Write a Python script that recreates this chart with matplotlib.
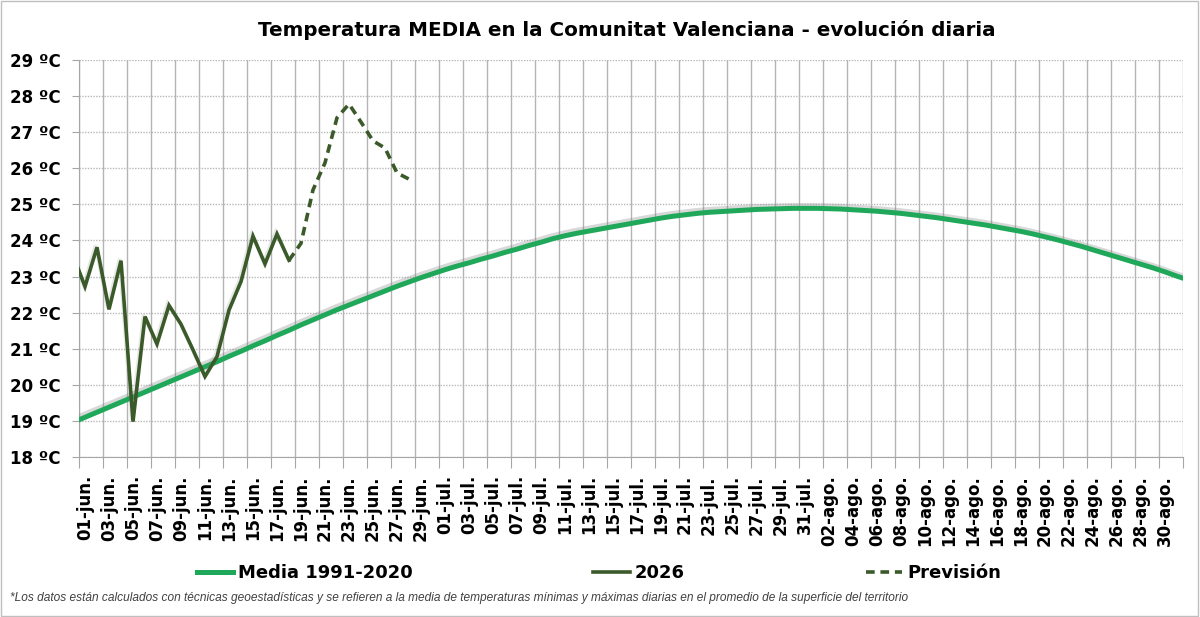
import matplotlib
matplotlib.use('Agg')
import matplotlib.pyplot as plt
import matplotlib.patheffects as pe
from matplotlib.patches import Rectangle
from matplotlib.lines import Line2D
import numpy as np

# Etiquetas del eje X (01-jun. ... 31-ago.)
meses = ['jun', 'jul', 'ago']
dias_mes = [30, 31, 31]
etiquetas = [f'{d:02d}-{m}.' for m, n in zip(meses, dias_mes) for d in range(1, n + 1)]

# Media 1991-2020, desde 31-may hasta 01-sep (recortada en los bordes)
media = [18.96,
         19.10, 19.24, 19.38, 19.52, 19.66, 19.80, 19.94, 20.08, 20.22, 20.36,
         20.50, 20.64, 20.79, 20.93, 21.08, 21.22, 21.37, 21.51, 21.66, 21.80,
         21.94, 22.08, 22.21, 22.34, 22.47, 22.60, 22.73, 22.85, 22.97, 23.08,
         23.19, 23.29, 23.38, 23.48, 23.57, 23.67, 23.76, 23.86, 23.95, 24.05,
         24.13, 24.20, 24.26, 24.32, 24.38, 24.44, 24.50, 24.56, 24.62, 24.67,
         24.71, 24.75, 24.78, 24.80, 24.82, 24.84, 24.86, 24.87, 24.88, 24.89,
         24.89, 24.89, 24.88, 24.87, 24.85, 24.83, 24.81, 24.78, 24.75, 24.71,
         24.67, 24.63, 24.58, 24.53, 24.48, 24.43, 24.37, 24.31, 24.25, 24.18,
         24.10, 24.02, 23.93, 23.84, 23.74, 23.64, 23.54, 23.44, 23.34, 23.24,
         23.13, 23.01, 22.90]

# 2026 observado, desde 31-may hasta 18-jun
t2026 = [23.60, 22.72, 23.81, 22.09, 23.44, 18.98, 21.89, 21.13, 22.20, 21.68,
         20.97, 20.23, 20.78, 22.07, 22.86, 24.12, 23.35, 24.18, 23.45]

# Prevision, desde 18-jun hasta 28-jun
prevision = [23.45, 23.92, 25.40, 26.15, 27.40, 27.78, 27.28, 26.76, 26.56,
             25.87, 25.70]

x_media = np.arange(-1, -1 + len(media))
x_2026 = np.arange(-1, -1 + len(t2026))
x_prev = np.arange(17, 17 + len(prevision))

verde = '#1fa85a'
oscuro = '#3b5a2a'
guiones = (0, (2.4, 1.6))

fig = plt.figure(figsize=(12, 6.17), dpi=100)
ax = fig.add_axes([79 / 1200, 1 - 457 / 617, 1104 / 1200, 397 / 617])

sombra_media = [pe.SimpleLineShadow(offset=(-1, 2), shadow_color='gray', alpha=0.3),
                pe.Normal()]
sombra_2026 = [pe.SimpleLineShadow(offset=(-1, 1.5), shadow_color='gray', alpha=0.18),
               pe.Normal()]

ax.plot(x_media, media, color=verde, lw=3.6,
        path_effects=sombra_media, solid_capstyle='butt', zorder=3)
ax.plot(x_2026, t2026, color=oscuro, lw=2.6,
        path_effects=sombra_2026, solid_joinstyle='miter', zorder=4)
ax.plot(x_prev, prevision, color=oscuro, lw=2.6, ls=guiones, zorder=4)

ax.set_xlim(-0.5, 91.5)
ax.set_ylim(18, 29)

# rejilla vertical cada dos dias, etiquetas en el centro de la categoria
ax.set_xticks(np.arange(-0.5, 92, 2))
ax.set_xticklabels([])
ax.set_xticks(np.arange(0, 92, 2), minor=True)
ax.set_xticklabels(etiquetas[::2], minor=True, rotation=90,
                   fontsize=12, fontweight='bold')
ax.tick_params(axis='x', which='major', length=8, color='#a6a6a6')
ax.tick_params(axis='x', which='minor', length=0, pad=13)
ax.grid(axis='x', which='major', color='#b4b4b4', lw=1)

ax.set_yticks(np.arange(18, 30))
ax.set_yticklabels([f'{v} ºC' for v in range(18, 30)],
                   fontsize=12, fontweight='bold')
ax.tick_params(axis='y', length=5, color='#a6a6a6', pad=8)
ax.grid(axis='y', color='#b8b8b8', lw=1, ls=(0, (1, 1)))
ax.set_axisbelow(True)

for s in ['top', 'right']:
    ax.spines[s].set_visible(False)
for s in ['left', 'bottom']:
    ax.spines[s].set_color('#a6a6a6')

fig.text(0.522, 1 - 30 / 617, 'Temperatura MEDIA en la Comunitat Valenciana - evolución diaria',
         ha='center', va='center', fontsize=14.3, fontweight='bold')

handles = [Line2D([], [], color=verde, lw=3.6),
           Line2D([], [], color=oscuro, lw=2.6),
           Line2D([], [], color=oscuro, lw=2.6, ls=guiones)]
fig.legend(handles, ['Media 1991-2020', '2026', 'Previsión'],
           loc='center', bbox_to_anchor=(0.499, 1 - 573 / 617), ncol=3,
           frameon=False, handlelength=2.0, handletextpad=0.3,
           columnspacing=10.0, prop={'size': 13, 'weight': 'bold'})

fig.text(10 / 1200, 1 - 598 / 617,
         '*Los datos están calculados con técnicas geoestadísticas y se refieren a la media de '
         'temperaturas mínimas y máximas diarias en el promedio de la superficie del territorio',
         ha='left', va='center', fontsize=8.6, style='italic', color='#404040',
         family='Liberation Sans')

fig.patches.append(Rectangle((0.001, 0.002), 0.997, 0.996, transform=fig.transFigure,
                             fill=False, edgecolor='#bfbfbf', lw=1))

fig.savefig('out.png', dpi=100)
